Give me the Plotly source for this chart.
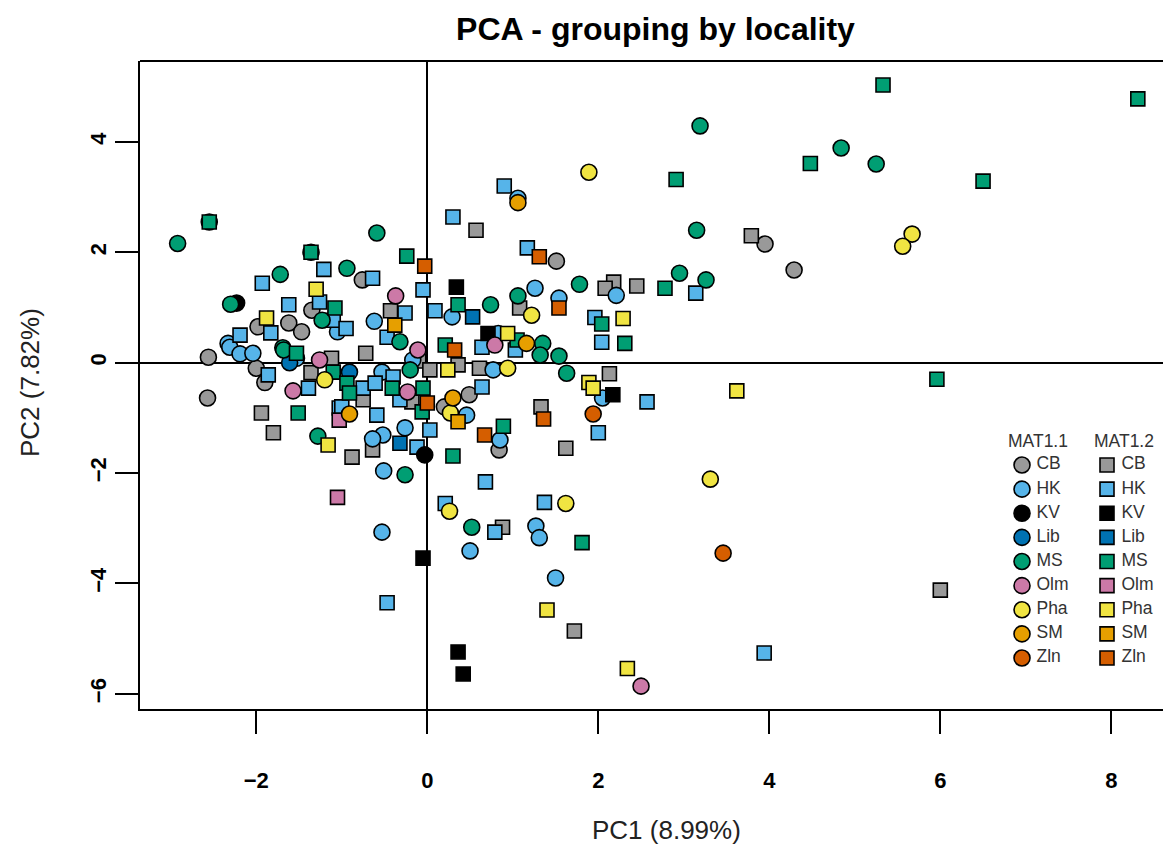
import plotly.graph_objects as go

# ---------------- data (PC1, PC2) ----------------
localities = ["CB", "HK", "KV", "Lib", "MS", "Olm", "Pha", "SM", "Zln"]
colors = ["#999999", "#56B4E9", "#000000", "#0072B2", "#009E73",
          "#CC79A7", "#F0E442", "#E69F00", "#D55E00"]

# MAT1.1 (circles)
CB_11_x = [-2.56, -2.00, -1.90, -2.57, -1.35, -1.98, -1.62, -1.47, -0.76, 1.51, 0.20, 0.49, 0.84, 3.95, 4.29]
CB_11_y = [0.10, -0.10, -0.36, -0.64, 0.95, 0.65, 0.72, 0.56, 1.50, 1.84, -0.80, -0.58, -1.58, 2.15, 1.68]
HK_11_x = [-2.33, -2.31, -2.19, -2.04, -1.53, -1.05, 1.06, -0.62, 0.29, 0.83, 2.21, 1.26, 1.54, -0.17, 0.77,
           -0.53, -0.52, -0.26, -0.64, -0.51, 0.46, 0.85, 2.05, -0.53, 0.50, 1.27, 1.31, 1.50]
HK_11_y = [0.35, 0.28, 0.16, 0.17, 0.08, 0.56, 2.98, 0.75, 0.83, 0.53, 1.22, 1.35, 1.17, 0.05, -0.13,
           -0.17, -1.31, -1.18, -1.38, -1.96, -0.95, -1.40, -0.64, -3.07, -3.41, -2.96, -3.17, -3.90]
KV_11_x = [-2.23, -0.03]
KV_11_y = [1.08, -1.67]
Lib_11_x = [-1.61, -0.91]
Lib_11_y = [0.00, -0.17]
MS_11_x = [-2.55, -2.92, -1.36, -1.72, -2.30, -1.23, -1.69, -1.68, -1.28, -0.59, -0.94, -0.32, 0.74, 1.06,
           3.15, 2.95, 3.26, 1.78, 1.35, 1.32, 1.54, 1.63, -0.20, -0.26, 0.52, 3.19, 4.84, 5.25]
MS_11_y = [2.55, 2.16, 2.00, 1.60, 1.06, 0.77, 0.27, 0.23, -1.33, 2.35, 1.71, 0.38, 1.05, 1.21,
           2.40, 1.62, 1.50, 1.42, 0.35, 0.14, 0.12, -0.19, -0.13, -2.03, -2.98, 4.29, 3.89, 3.60]
Olm_11_x = [-1.26, -1.57, -0.37, 0.79, -0.11, -0.23, 2.50]
Olm_11_y = [0.05, -0.51, 1.21, 0.32, 0.23, -0.53, -5.86]
Pha_11_x = [-1.20, 1.22, 0.94, 0.27, 0.26, 3.31, 1.62, 1.89, 5.67, 5.56]
Pha_11_y = [-0.31, 0.86, -0.10, -0.91, -2.69, -2.11, -2.55, 3.45, 2.33, 2.11]
SM_11_x = [1.06, 1.16, -0.91, 0.30]
SM_11_y = [2.90, 0.35, -0.93, -0.64]
Zln_11_x = [1.94, 3.46]
Zln_11_y = [-0.93, -3.45]

# MAT1.2 (squares)
CB_12_x = [-1.12, -1.36, -1.94, -1.80, 0.57, -0.43, 1.08, 2.45, 2.18, 2.08, -0.72, -0.10, 0.03, 0.36, 0.61,
           -0.75, -0.18, -0.64, -0.88, 2.13, 1.33, 1.62, 0.88, 1.72, 3.79, 6.00]
CB_12_y = [0.08, -0.18, -0.91, -1.27, 2.40, 0.94, 0.99, 1.39, 1.46, 1.35, 0.17, 0.03, -0.13, -0.04, -0.10,
           -0.67, -0.71, -1.58, -1.71, -0.20, -0.80, -1.55, -2.98, -4.86, 2.30, -4.12]
HK_12_x = [-1.21, -1.93, -1.62, -1.26, -1.10, -1.83, -2.19, -1.86, -1.39, -1.03, 0.90, 0.30, 1.17, -0.64,
           -0.05, -0.26, 0.09, -0.95, -0.47, 0.64, 3.14, 1.96, 2.04, 2.57, 2.00, 1.37, 1.03, -0.40, -0.75,
           -0.61, -1.00, -0.59, -0.32, 0.03, -0.12, 0.64, 0.68, 0.21, 0.79, -0.47, 3.94]
HK_12_y = [1.69, 1.44, 1.05, 1.10, 0.77, 0.54, 0.50, -0.22, -0.46, -0.82, 3.20, 2.64, 2.08, 1.53,
           1.32, 0.90, 0.94, 0.62, 0.46, 0.28, 1.26, 0.82, 0.37, -0.71, -1.27, -2.53, 0.23, -0.26, -0.46,
           -0.37, -0.80, -0.95, -0.67, -1.22, -1.53, -0.44, -2.16, -2.55, -3.07, -4.35, -5.26]
KV_12_x = [0.34, 0.71, 2.17, -0.05, 0.36, 0.42]
KV_12_y = [1.37, 0.53, -0.58, -3.54, -5.24, -5.64]
Lib_12_x = [0.53, -0.32]
Lib_12_y = [0.83, -1.46]
MS_12_x = [-2.55, -1.36, -1.08, -1.53, -1.10, -1.51, -0.24, 0.36, 0.21, 1.05, 2.91, 2.78, 2.04, 2.31,
           -0.94, -0.41, -0.05, -0.91, -0.06, 0.89, 0.30, 1.81, 5.33, 8.31, 4.48, 6.50, 5.96]
MS_12_y = [2.55, 2.00, 0.99, 0.17, -0.17, -0.91, 1.93, 1.05, 0.32, 0.41, 3.32, 1.35, 0.70, 0.35,
           -0.37, -0.46, -0.46, -0.55, -0.89, -1.15, -1.69, -3.26, 5.03, 4.78, 3.61, 3.29, -0.30]
Olm_12_x = [-1.05, -1.03]
Olm_12_y = [-2.44, -1.04]
Pha_12_x = [-1.30, -1.88, -1.16, 0.94, 2.29, 1.89, 1.94, 0.24, 3.62, 1.40, 2.34]
Pha_12_y = [1.33, 0.81, -1.49, 0.53, 0.80, -0.36, -0.46, -0.13, -0.51, -4.48, -5.54]
SM_12_x = [-0.38, 0.36]
SM_12_y = [0.68, -1.07]
Zln_12_x = [-0.03, 1.31, 1.54, 0.32, 1.36, 0.00, 0.67]
Zln_12_y = [1.75, 1.92, 0.99, 0.23, -1.02, -0.73, -1.31]

x_ticks = [-2, 0, 2, 4, 6, 8]
y_ticks = [-6, -4, -2, 0, 2, 4]
legend_headers = ["MAT1.1", "MAT1.2"]

mat11 = [(CB_11_x, CB_11_y), (HK_11_x, HK_11_y), (KV_11_x, KV_11_y), (Lib_11_x, Lib_11_y),
         (MS_11_x, MS_11_y), (Olm_11_x, Olm_11_y), (Pha_11_x, Pha_11_y), (SM_11_x, SM_11_y),
         (Zln_11_x, Zln_11_y)]
mat12 = [(CB_12_x, CB_12_y), (HK_12_x, HK_12_y), (KV_12_x, KV_12_y), (Lib_12_x, Lib_12_y),
         (MS_12_x, MS_12_y), (Olm_12_x, Olm_12_y), (Pha_12_x, Pha_12_y), (SM_12_x, SM_12_y),
         (Zln_12_x, Zln_12_y)]

FONT = "Liberation Sans, Arial, sans-serif"
CIRCLE_SIZE = 16
SQUARE_SIZE = 14
LW = 1.6
LEG_FONT = dict(family=FONT, size=17.5, color="#333333")

fig = go.Figure()

for i, loc in enumerate(localities):
    xs, ys = mat11[i]
    fig.add_trace(go.Scatter(x=xs, y=ys, mode="markers", name=loc + " MAT1.1", showlegend=False,
                             marker=dict(symbol="circle", size=CIRCLE_SIZE, color=colors[i],
                                         line=dict(color="black", width=LW))))
    xs, ys = mat12[i]
    fig.add_trace(go.Scatter(x=xs, y=ys, mode="markers", name=loc + " MAT1.2", showlegend=False,
                             marker=dict(symbol="square", size=SQUARE_SIZE, color=colors[i],
                                         line=dict(color="black", width=LW))))

# ---------------- legend (drawn on its own small axes) ----------------
rows = list(range(len(localities)))
for col, sym, size in [(0, "circle", CIRCLE_SIZE), (1, "square", SQUARE_SIZE)]:
    fig.add_trace(go.Scatter(x=[col] * len(rows), y=rows, mode="markers",
                             marker=dict(symbol=sym, size=size, color=colors,
                                         line=dict(color="black", width=LW)),
                             xaxis="x2", yaxis="y2", showlegend=False, hoverinfo="skip"))
    fig.add_trace(go.Scatter(x=[col + 0.17] * len(rows), y=rows, mode="text", text=localities,
                             textposition="middle right", textfont=LEG_FONT,
                             xaxis="x2", yaxis="y2", showlegend=False, hoverinfo="skip"))

# page offset of the figure inside the browser (body margin)
OFF = 8
W, H = 1171 - OFF, 848 - OFF
ML, MR, MT = 140 - OFF, 0, 61 - OFF
PLOT_W, PLOT_H = W - ML - MR, 648
MB = H - MT - PLOT_H


def px_x(p):  # page pixel -> paper x
    return (p - 140) / PLOT_W


def px_y(p):  # page pixel -> paper y
    return (709 - p) / PLOT_H


fig.update_layout(
    width=W, height=H,
    margin=dict(l=ML, r=MR, t=MT, b=MB, pad=0),
    paper_bgcolor="white", plot_bgcolor="white",
    font=dict(family=FONT, color="black"),
    title=dict(text="<b>PCA - grouping by locality</b>", x=0.5, xref="paper", xanchor="center",
               y=1 - (29 - OFF) / H, yref="container", yanchor="middle",
               font=dict(family=FONT, size=32, color="black")),
    xaxis=dict(range=[-3.36, 8.698], tickvals=x_ticks, ticks="outside", ticklen=23, tickwidth=2,
               tickcolor="black", showline=True, linewidth=2, linecolor="black", showgrid=False,
               zeroline=True, zerolinecolor="black", zerolinewidth=2,
               tickfont=dict(family=FONT, size=22, color="black", weight="bold"),
               ticklabelstandoff=28),
    yaxis=dict(range=[-6.274, 5.466], tickvals=y_ticks, ticks="outside", ticklen=23, tickwidth=2,
               tickcolor="black", showline=True, linewidth=2, linecolor="black", showgrid=False,
               zeroline=True, zerolinecolor="black", zerolinewidth=2, tickangle=-90,
               tickfont=dict(family=FONT, size=22, color="black", weight="bold"),
               ticklabelstandoff=0),
    xaxis2=dict(domain=[px_x(1000), 1.0], range=[-0.259, 1.753], anchor="y2",
                visible=False, fixedrange=True),
    yaxis2=dict(domain=[px_y(670), px_y(430)], range=[8.497, -1.451], anchor="x2",
                visible=False, fixedrange=True),
    shapes=[dict(type="line", xref="paper", yref="paper", x0=0, x1=1, y0=1, y1=1,
                 line=dict(color="black", width=2))],
    annotations=[
        dict(text="PC1 (8.99%)", xref="paper", yref="paper", x=px_x(666), y=px_y(830),
             showarrow=False, xanchor="center", yanchor="middle",
             font=dict(family=FONT, size=26, color="#222222")),
        dict(text="PC2 (7.82%)", xref="paper", yref="paper", x=px_x(30), y=px_y(383),
             showarrow=False, xanchor="center", yanchor="middle", textangle=-90,
             font=dict(family=FONT, size=26, color="#222222")),
        dict(text=legend_headers[0], xref="x2", yref="y2", x=0.19, y=-1, showarrow=False,
             font=LEG_FONT),
        dict(text=legend_headers[1], xref="x2", yref="y2", x=1.2, y=-1, showarrow=False,
             font=LEG_FONT),
    ],
)

fig.write_html("out.html")
